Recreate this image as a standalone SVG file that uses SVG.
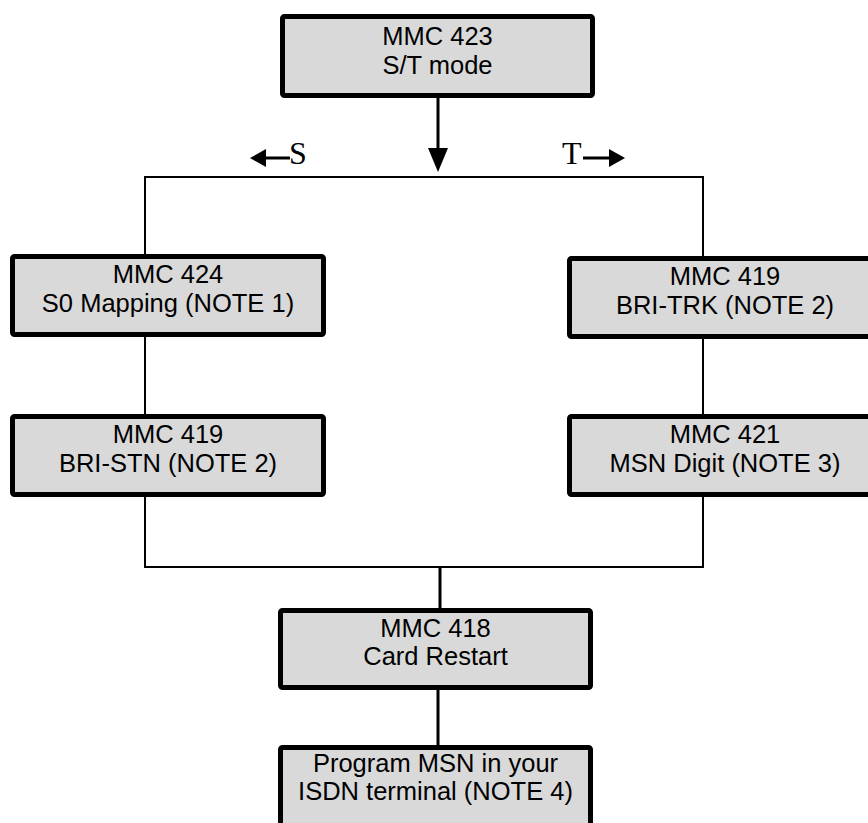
<svg xmlns="http://www.w3.org/2000/svg" width="868" height="823" viewBox="0 0 868 823">
<style>
.box{fill:#d9d9d9;stroke:#000;stroke-width:5;}
.t{font-family:"Liberation Sans",Arial,sans-serif;font-size:25.5px;fill:#000;text-anchor:middle;}
.lbl{font-family:"Liberation Serif","Times New Roman",serif;font-size:32px;fill:#000;}
.ln{stroke:#000;stroke-width:2;fill:none;}
.thick{stroke:#000;stroke-width:3;fill:none;}
</style>
<rect width="868" height="823" fill="#fff"/>
<g id="connectors">
<line class="thick" x1="438" y1="98" x2="438" y2="150"/>
<polygon points="428,148 448,148 438,172" fill="#000"/>
<polyline class="ln" points="145,254 145,177 703,177 703,256"/>
<line class="ln" x1="145" y1="337" x2="145" y2="414"/>
<line class="ln" x1="703" y1="339" x2="703" y2="414"/>
<polyline class="ln" points="145,497 145,567 703,567 703,497"/>
<line class="thick" x1="440" y1="567" x2="440" y2="608"/>
<line class="thick" x1="438" y1="690" x2="438" y2="745"/>
<line class="thick" x1="264" y1="158" x2="290" y2="158"/>
<polygon points="250,158 266,149 266,167" fill="#000"/>
<line class="thick" x1="583" y1="158" x2="611" y2="158"/>
<polygon points="625,158 609,149 609,167" fill="#000"/>
<text class="lbl" x="289" y="164">S</text>
<text class="lbl" x="562" y="164">T</text>
</g>
<g id="n423">
<rect class="box" x="282.5" y="16.5" width="310" height="79" rx="2"/>
<text class="t" x="437.5" y="45">MMC 423</text>
<text class="t" x="437.5" y="74">S/T mode</text>
</g>
<g id="n424">
<rect class="box" x="12.5" y="256.5" width="311" height="78" rx="2"/>
<text class="t" x="168" y="283">MMC 424</text>
<text class="t" x="168" y="312">S0 Mapping (NOTE 1)</text>
</g>
<g id="n419s">
<rect class="box" x="12.5" y="416.5" width="311" height="78" rx="2"/>
<text class="t" x="168" y="443">MMC 419</text>
<text class="t" x="168" y="472">BRI-STN (NOTE 2)</text>
</g>
<g id="n419t">
<rect class="box" x="569.5" y="258.5" width="311" height="78" rx="2"/>
<text class="t" x="725" y="285">MMC 419</text>
<text class="t" x="725" y="314">BRI-TRK (NOTE 2)</text>
</g>
<g id="n421">
<rect class="box" x="569.5" y="416.5" width="311" height="78" rx="2"/>
<text class="t" x="725" y="443">MMC 421</text>
<text class="t" x="725" y="472">MSN Digit (NOTE 3)</text>
</g>
<g id="n418">
<rect class="box" x="280.5" y="610.5" width="310" height="77" rx="2"/>
<text class="t" x="435.5" y="637">MMC 418</text>
<text class="t" x="435.5" y="665">Card Restart</text>
</g>
<g id="nmsn">
<rect class="box" x="280.5" y="747.5" width="310" height="100" rx="2"/>
<text class="t" x="435.5" y="772">Program MSN in your</text>
<text class="t" x="435.5" y="800">ISDN terminal (NOTE 4)</text>
</g>
</svg>
